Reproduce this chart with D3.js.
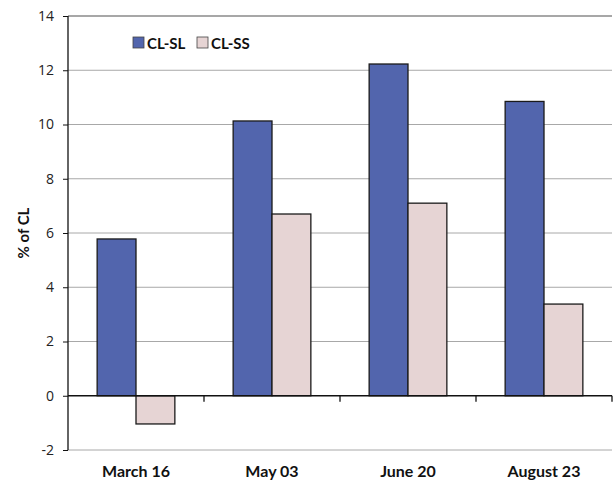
<!DOCTYPE html>
<html>
<head>
<meta charset="utf-8">
<script src="https://cdn.jsdelivr.net/npm/d3@7"></script>
<style>
  body { margin: 0; background: #fff; }
  svg text { font-family: Lato, "Open Sans", sans-serif; }
</style>
</head>
<body>
<svg id="chart" width="616" height="491"></svg>
<script>
const categories = ["March 16", "May 03", "June 20", "August 23"];
const seriesNames = ["CL-SL", "CL-SS"];
const clSL = [5.78, 10.13, 12.23, 10.85];
const clSS = [-1.04, 6.7, 7.1, 3.38];
const yTicks = [-2, 0, 2, 4, 6, 8, 10, 12, 14];
const colors = ["#5265ad", "#e6d4d4"];

const svg = d3.select("#chart");
const margin = { left: 68, right: 4, top: 16, bottom: 41 };
const W = 616, H = 491;
const x0 = margin.left, x1 = W - margin.right;
const y0 = margin.top, y1 = H - margin.bottom;

const x = d3.scaleBand().domain(categories).range([x0, x1]).paddingInner(0).paddingOuter(0);
const gap = 0.75; // 150% gap width relative to bar
const y = d3.scaleLinear().domain([-2, 14]).range([y1, y0]);

// gridlines
svg.append("g").selectAll("line").data(yTicks.filter(t => t !== 0)).join("line")
  .attr("x1", x0).attr("x2", x1)
  .attr("y1", d => y(d)).attr("y2", d => y(d))
  .attr("stroke", d => d === 14 ? "#8a8a8a" : "#a8a8a8")
  .attr("stroke-width", d => d === 14 ? 1.6 : 1);

// bars
const data = categories.map((c, i) => ({ c, vals: [clSL[i], clSS[i]] }));
const inner = d3.scaleBand().domain(seriesNames)
  .range([0, x.bandwidth()]).paddingInner(0).paddingOuter(gap);

svg.append("g").selectAll("g").data(data).join("g")
  .attr("transform", d => `translate(${x(d.c)},0)`)
  .selectAll("rect").data(d => d.vals.map((v, j) => ({ v, s: seriesNames[j], j })))
  .join("rect")
  .attr("x", d => inner(d.s))
  .attr("width", inner.bandwidth())
  .attr("y", d => y(Math.max(0, d.v)))
  .attr("height", d => Math.abs(y(d.v) - y(0)))
  .attr("fill", d => colors[d.j])
  .attr("stroke", "#1a1a1a")
  .attr("stroke-width", 1.3);

// y axis
const yAxis = d3.axisLeft(y).tickValues(yTicks).tickSize(5).tickPadding(9)
  .tickFormat(d => String(d));
const gy = svg.append("g").attr("transform", `translate(${x0},0)`).call(yAxis);
gy.select(".domain").attr("stroke", "#111").attr("stroke-width", 1.3).attr("d", `M0,${y(14)}V${y(-2)}`);
gy.selectAll(".tick line").attr("stroke", "#111");
gy.selectAll(".tick text").attr("font-size", 14).attr("fill", "#222")
  .style("font-family", "'Open Sans', sans-serif");

// x axis at zero
const xAxis = d3.axisBottom(x).tickSize(0).tickFormat("");
const gx = svg.append("g").attr("transform", `translate(0,${y(0)})`).call(xAxis);
gx.select(".domain").attr("stroke", "#111").attr("stroke-width", 1.3).attr("d", `M${x0},0H${x1}`);
// category boundary ticks
svg.append("g").selectAll("line").data(categories).join("line")
  .attr("x1", d => x(d) + x.bandwidth()).attr("x2", d => x(d) + x.bandwidth())
  .attr("y1", y(0)).attr("y2", y(0) + 6)
  .attr("stroke", "#111").attr("stroke-width", 1.3);

// category labels at bottom
svg.append("g").selectAll("text").data(categories).join("text")
  .attr("x", d => x(d) + x.bandwidth() / 2)
  .attr("y", 477)
  .attr("text-anchor", "middle")
  .attr("font-size", 16).attr("font-weight", "bold").attr("fill", "#111")
  .text(d => d);

// y title
svg.append("text")
  .attr("transform", `translate(29,${(y0 + y1) / 2}) rotate(-90)`)
  .attr("text-anchor", "middle")
  .attr("font-size", 15).attr("font-weight", "bold").attr("fill", "#111")
  .text("% of CL");

// legend
const legX = [133, 197];
const leg = svg.append("g").selectAll("g").data(seriesNames).join("g")
  .attr("transform", (d, i) => `translate(${legX[i]},37)`);
leg.append("rect").attr("width", 11).attr("height", 11)
  .attr("fill", (d, i) => colors[i]).attr("stroke", "#444").attr("stroke-width", 0.8);
leg.append("text").attr("x", 14).attr("y", 11.5)
  .attr("font-size", 15).attr("font-weight", "bold").attr("fill", "#111")
  .text(d => d);
</script>
</body>
</html>
